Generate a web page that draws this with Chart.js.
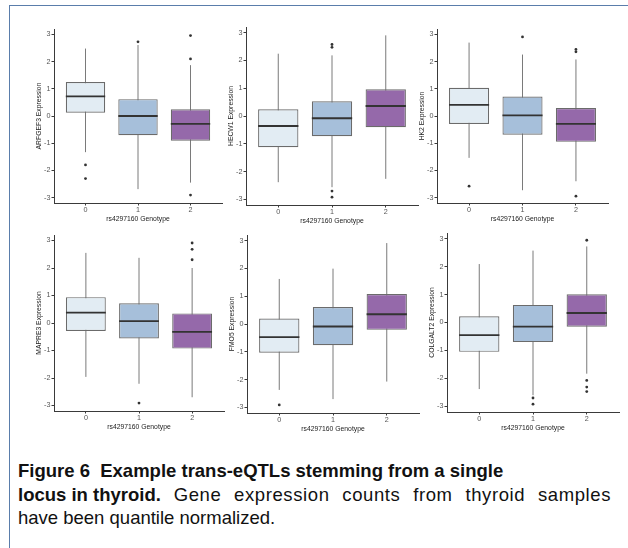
<!DOCTYPE html>
<html>
<head>
<meta charset="utf-8">
<script src="https://cdn.jsdelivr.net/npm/chart.js@4.4.1/dist/chart.umd.min.js"></script>
<style>
  body { margin: 0; width: 628px; height: 548px; overflow: hidden; background: #fff; position: relative; font-family: "Liberation Sans", Arial, sans-serif; }
  .frame { position: absolute; left: 9px; top: 5px; width: 640px; height: 560px; border-top: 1.5px solid #5a7dab; border-left: 1.5px solid #5a7dab; }
  .panel { position: absolute; }
  .caption { position: absolute; left: 18px; top: 459px; width: 593px; font-size: 18.5px; line-height: 23.5px; color: #111; }
  .caption div { white-space: nowrap; }
  .caption .full { text-align: justify; text-align-last: justify; white-space: normal; letter-spacing: 0.6px; }
  .caption .full b { display: inline-block; letter-spacing: 0; }
</style>
</head>
<body>
<div class="frame"></div>
<div id="panels"></div>
<div class="caption">
  <div><b>Figure 6&nbsp; Example trans-eQTLs stemming from a single</b></div>
  <div class="full"><b>locus in thyroid.</b> Gene expression counts from thyroid samples</div>
  <div>have been quantile normalized.</div>
</div>
<script>
const genotypes = [0, 1, 2];
const yTicks = [-3, -2, -1, 0, 1, 2, 3];
const genes = ['ARFGEF3', 'HECW1', 'HK2', 'MAPRE3', 'FMO5', 'COLGALT2'];
const boxColors = ['#e2ecf3', '#a6bfda', '#9569aa'];

// one row per genotype: [lower whisker, Q1, median, Q3, upper whisker]
const arfgef3Box = [[-1.33, 0.12, 0.72, 1.25, 2.48], [-2.69, -0.71, 0.0, 0.62, 2.61], [-2.45, -0.91, -0.29, 0.25, 1.87]];
const arfgef3Outliers = [[-1.80, -2.30], [2.73], [2.96, 2.10, -2.91]];

const hecw1Box = [[-2.38, -1.12, -0.36, 0.24, 2.24], [-2.56, -0.73, -0.08, 0.53, 2.18], [-2.26, -0.40, 0.36, 0.96, 2.90]];
const hecw1Outliers = [[], [2.57, 2.47, -2.70, -2.92], []];

const hk2Box = [[-1.54, -0.29, 0.41, 1.04, 2.70], [-2.73, -0.69, 0.02, 0.72, 2.26], [-2.40, -0.95, -0.29, 0.29, 2.08]];
const hk2Outliers = [[-2.58], [2.91], [2.45, 2.36, -2.95]];

const mapre3Box = [[-1.96, -0.29, 0.38, 0.94, 2.55], [-2.21, -0.56, 0.07, 0.72, 2.37], [-2.70, -0.93, -0.32, 0.35, 2.00]];
const mapre3Outliers = [[], [-2.91], [2.91, 2.68, 2.30]];

const fmo5Box = [[-2.37, -1.03, -0.47, 0.20, 1.62], [-2.70, -0.76, -0.09, 0.61, 1.99], [-2.07, -0.21, 0.35, 1.08, 2.91]];
const fmo5Outliers = [[-2.91], [], []];

const colgalt2Box = [[-2.38, -1.05, -0.45, 0.22, 2.09], [-2.60, -0.70, -0.15, 0.63, 2.57], [-1.83, -0.15, 0.34, 1.01, 2.72]];
const colgalt2Outliers = [[], [-2.70, -2.92], [2.94, -2.07, -2.31, -2.47]];

const boxStats = [arfgef3Box, hecw1Box, hk2Box, mapre3Box, fmo5Box, colgalt2Box];
const outlierValues = [arfgef3Outliers, hecw1Outliers, hk2Outliers, mapre3Outliers, fmo5Outliers, colgalt2Outliers];

// plot area of each panel on the page: [left, top, right, bottom]
const panelRects = [
  [54, 29, 222, 203], [246, 27, 418, 205], [437, 29, 608, 203],
  [54, 235, 224, 411], [247, 235, 419, 413], [447, 233, 619, 412]
];

const BOX_HALF = 0.375;
const Y_AXIS_W = 20, X_AXIS_H = 22;
const PAD = { left: 4, top: 8, right: 6, bottom: 0 };

Chart.defaults.font.family = '"Liberation Sans", Arial, sans-serif';

const axisBase = {
  type: 'linear',
  offset: false,
  border: { display: true, color: '#3a3a3a', width: 1 },
  grid: { display: true, drawOnChartArea: false, offset: false, tickLength: 2.5, tickColor: '#3a3a3a' },
  ticks: { color: '#555', font: { size: 7.2 }, padding: 1 }
};

const makePanel = (idx) => {
  const [L, T, R, B] = panelRects[idx];
  const stats = boxStats[idx];

  const div = document.createElement('div');
  div.className = 'panel';
  const w = R - L + Y_AXIS_W + PAD.left + PAD.right;
  const h = B - T + X_AXIS_H + PAD.top + PAD.bottom;
  div.style.left = (L - Y_AXIS_W - PAD.left) + 'px';
  div.style.top = (T - PAD.top) + 'px';
  const canvas = document.createElement('canvas');
  canvas.width = w;
  canvas.height = h;
  div.appendChild(canvas);
  document.getElementById('panels').appendChild(div);

  // whiskers run full length, the box covers the middle part
  const whiskers = [];
  const medians = [];
  genotypes.forEach((g, i) => {
    whiskers.push({ x: g, y: stats[i][0] }, { x: g, y: stats[i][4] }, { x: g, y: null });
    medians.push({ x: g - BOX_HALF, y: stats[i][2] }, { x: g + BOX_HALF, y: stats[i][2] }, { x: g, y: null });
  });
  const boxes = genotypes.map((g, i) => ({ x: g, y: [stats[i][1], stats[i][3]] }));
  const points = [];
  genotypes.forEach((g, i) => outlierValues[idx][i].forEach(v => points.push({ x: g, y: v })));

  new Chart(canvas, {
    type: 'bar',
    data: {
      datasets: [
        { type: 'line', data: whiskers, borderColor: '#7a7a7a', borderWidth: 1, pointRadius: 0, spanGaps: false, order: 3 },
        { type: 'bar', data: boxes, backgroundColor: boxColors, borderColor: '#6b6b6b', borderWidth: 1.2,
          borderSkipped: false, categoryPercentage: 1, barPercentage: 0.75, order: 2 },
        { type: 'line', data: medians, borderColor: '#333', borderWidth: 1.8, pointRadius: 0, spanGaps: false, order: 1 },
        { type: 'scatter', data: points, pointRadius: 1.4, pointBackgroundColor: '#333', pointBorderWidth: 0, order: 0 }
      ]
    },
    options: {
      responsive: false,
      animation: false,
      events: [],
      layout: { padding: PAD },
      plugins: { legend: { display: false }, tooltip: { enabled: false } },
      scales: {
        x: {
          ...axisBase,
          min: -0.6, max: 2.6,
          ticks: { ...axisBase.ticks, padding: 0 },
          title: { display: true, text: 'rs4297160 Genotype', color: '#222', font: { size: 6.8 }, padding: 1.5 },
          afterBuildTicks: s => { s.ticks = genotypes.map(v => ({ value: v })); },
          afterFit: s => { s.height = X_AXIS_H; s.paddingLeft = 0; s.paddingRight = 0; }
        },
        y: {
          ...axisBase,
          min: -3.2, max: 3.2,
          title: { display: true, text: genes[idx] + ' Expression', color: '#222', font: { size: 6.8 }, padding: 1.5 },
          afterBuildTicks: s => { s.ticks = yTicks.map(v => ({ value: v })); },
          afterFit: s => { s.width = Y_AXIS_W; s.paddingTop = 0; s.paddingBottom = 0; }
        }
      }
    }
  });
};

genes.forEach((g, i) => makePanel(i));
</script>
</body>
</html>
